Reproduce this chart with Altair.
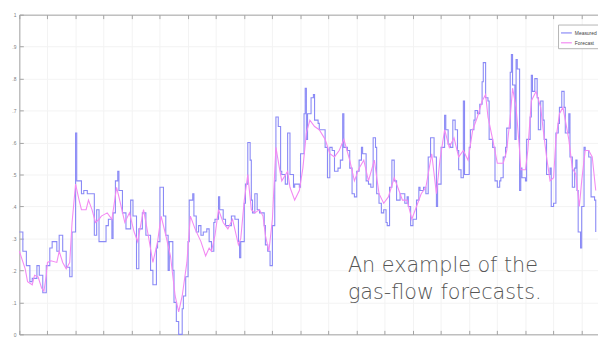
import altair as alt
import pandas as pd

# ---- data (time in hours, flow normalised 0..1) ----
series_names = ["Measured", "Forecast"]

measured_hours = [
    0, 3, 6, 9, 11, 15, 17, 20, 23, 26, 28, 32, 34, 37, 40, 43, 45, 48, 49, 53, 55, 58, 62, 64, 66, 68, 70, 74, 76, 79,
    80, 82, 84, 85, 88, 91, 95, 97, 100, 102, 105, 108, 112, 114, 117, 118, 120, 123, 125, 127, 128, 131, 132, 134, 136, 139, 140, 142, 144, 145, 148, 149, 151, 153, 155, 157, 160, 162,
    164, 166, 167, 170, 171, 174, 176, 180, 181, 184, 187, 188, 189, 192, 193, 195, 197, 198, 199, 201, 203, 205, 207, 209, 210, 212, 214, 216, 218, 219, 221, 223, 224, 227, 229, 231, 234, 235, 239, 240, 243, 244,
    245, 246, 249, 251, 252, 255, 256, 259, 261, 263, 265, 267, 269, 272, 274, 276, 277, 280, 282, 284, 286, 288, 290, 292, 293, 296, 298, 300, 302, 304, 305, 307, 309, 311, 313, 314, 316, 318, 320, 322, 325, 327,
    329, 331, 332, 334, 336, 339, 341, 342, 345, 347, 349, 351, 353, 354, 356, 357, 360, 363, 364, 366, 368, 370, 372, 374, 375, 377, 379, 380, 383, 384, 385, 388, 389, 391, 393, 395, 396, 398, 400, 401, 404, 406, 408, 410,
    411, 413, 415, 416, 419, 420, 421, 423, 424, 425, 427, 428, 429, 432, 433, 436, 437, 438, 440, 442, 443, 445, 447, 448, 450, 453, 454, 456, 458, 460, 461, 463, 465, 466, 469, 470, 472, 474, 475, 476, 477, 479, 480, 482, 483, 486, 488, 491, 492,
]
measured_values = [
    0.32, 0.26, 0.215, 0.165, 0.175, 0.215, 0.185, 0.13, 0.215, 0.27, 0.29, 0.26, 0.31, 0.26, 0.21, 0.18, 0.32, 0.63, 0.48, 0.44, 0.45, 0.44, 0.44, 0.31, 0.39, 0.29, 0.29, 0.34, 0.36, 0.30,
    0.38, 0.48, 0.51, 0.45, 0.38, 0.33, 0.42, 0.37, 0.205, 0.33, 0.38, 0.31, 0.20, 0.155, 0.27, 0.29, 0.46, 0.37, 0.31, 0.20, 0.29, 0.20, 0.10, 0.04, 0.0, 0.08, 0.12, 0.18, 0.29, 0.42, 0.44, 0.37, 0.32, 0.34, 0.31, 0.32, 0.33, 0.29,
    0.26, 0.35, 0.36, 0.43, 0.39, 0.36, 0.34, 0.34, 0.37, 0.36, 0.29, 0.24, 0.29, 0.41, 0.47, 0.60, 0.545, 0.42, 0.38, 0.44, 0.39, 0.38, 0.38, 0.34, 0.28, 0.26, 0.215, 0.34, 0.48, 0.68, 0.65, 0.51, 0.50, 0.47, 0.63, 0.50, 0.46, 0.47, 0.46, 0.565, 0.69, 0.77,
    0.61, 0.69, 0.74, 0.75, 0.67, 0.66, 0.64, 0.64, 0.585, 0.49, 0.585, 0.575, 0.51, 0.52, 0.545, 0.69, 0.585, 0.575, 0.52, 0.44, 0.43, 0.51, 0.545, 0.585, 0.565, 0.48, 0.47, 0.46, 0.615, 0.585, 0.44, 0.41, 0.38, 0.39, 0.35, 0.34, 0.46, 0.545, 0.48, 0.42, 0.44, 0.44,
    0.41, 0.43, 0.40, 0.34, 0.36, 0.42, 0.46, 0.45, 0.46, 0.44, 0.555, 0.615, 0.615, 0.555, 0.40, 0.47, 0.585, 0.685, 0.64, 0.595, 0.585, 0.67, 0.64, 0.575, 0.515, 0.49, 0.73, 0.50, 0.50, 0.585, 0.64, 0.67, 0.70, 0.69, 0.72, 0.79, 0.85, 0.74, 0.73, 0.61, 0.585, 0.48, 0.46, 0.48,
    0.49, 0.555, 0.585, 0.645, 0.82, 0.875, 0.78, 0.61, 0.86, 0.83, 0.45, 0.52, 0.49, 0.48, 0.61, 0.68, 0.81, 0.76, 0.80, 0.74, 0.64, 0.73, 0.67, 0.61, 0.50, 0.52, 0.40, 0.41, 0.63, 0.66, 0.71, 0.76, 0.71, 0.63, 0.69, 0.555, 0.46, 0.52, 0.545, 0.45, 0.32, 0.27, 0.40, 0.585, 0.575, 0.555, 0.43, 0.42, 0.32,
]

forecast_hours = [
    0, 5, 7, 11, 13, 16, 19, 21, 23, 24, 27, 32, 34, 37, 40, 43, 45, 48, 51, 53, 57, 59, 62, 65, 68, 70, 75, 79,
    83, 85, 90, 94, 98, 101, 106, 110, 114, 118, 121, 125, 129, 133, 136, 139, 143, 146, 150, 155, 159, 162,
    164, 167, 170, 174, 178, 182, 187, 189, 192, 195, 198, 201, 205, 208, 210, 213, 216, 219, 222, 224, 229, 231, 235, 239, 242, 245,
    248, 252, 256, 261, 265, 269, 273, 277, 282, 286, 290, 294, 298, 303, 307, 311, 315, 320, 324, 327,
    331, 335, 339, 343, 347, 352, 356, 359, 363, 367, 371, 375, 379, 383, 387, 391, 395, 398, 400, 404, 408,
    413, 416, 419, 421, 424, 427, 428, 432, 434, 437, 441, 445, 447, 450, 453, 456, 458, 461, 464, 466, 469, 472, 475, 478, 480, 483, 486, 489, 492,
]
forecast_values = [
    0.26, 0.205, 0.165, 0.155, 0.185, 0.18, 0.145, 0.135, 0.185, 0.225, 0.23, 0.225, 0.26, 0.225, 0.205, 0.225, 0.35, 0.47, 0.42, 0.39, 0.39, 0.42, 0.39, 0.35, 0.36, 0.37, 0.38, 0.36,
    0.46, 0.43, 0.35, 0.38, 0.32, 0.29, 0.39, 0.31, 0.225, 0.29, 0.37, 0.31, 0.245, 0.12, 0.07, 0.12, 0.225, 0.37, 0.33, 0.29, 0.245, 0.27,
    0.26, 0.31, 0.39, 0.35, 0.33, 0.36, 0.28, 0.30, 0.42, 0.50, 0.39, 0.38, 0.39, 0.37, 0.31, 0.26, 0.36, 0.585, 0.52, 0.48, 0.51, 0.46, 0.42, 0.45, 0.52, 0.63,
    0.67, 0.65, 0.64, 0.61, 0.565, 0.555, 0.575, 0.61, 0.545, 0.48, 0.52, 0.545, 0.48, 0.545, 0.44, 0.41, 0.43, 0.49, 0.45, 0.42,
    0.42, 0.36, 0.40, 0.44, 0.46, 0.565, 0.44, 0.545, 0.64, 0.585, 0.615, 0.555, 0.575, 0.545, 0.64, 0.68, 0.73, 0.75, 0.68, 0.61, 0.535,
    0.535, 0.575, 0.68, 0.77, 0.71, 0.575, 0.515, 0.515, 0.575, 0.73, 0.76, 0.71, 0.645, 0.555, 0.48, 0.49, 0.61, 0.69, 0.71, 0.67, 0.61, 0.52, 0.50, 0.40, 0.48, 0.575, 0.575, 0.555, 0.45,
]

x_ticks = list(range(0, 481, 24))
y_ticks = [0, 0.1, 0.2, 0.3, 0.4, 0.5, 0.6, 0.7, 0.8, 0.9, 1.0]
caption_lines = ["An example of the", "gas-flow forecasts."]

assert len(measured_hours) == len(measured_values)
assert len(forecast_hours) == len(forecast_values)

dm = pd.DataFrame({"hour": measured_hours, "flow": measured_values, "series": series_names[0]})
df = pd.DataFrame({"hour": forecast_hours, "flow": forecast_values, "series": series_names[1]})

W, H = 586, 324
AXIS_GREY = "#a3a3a3"
GRID = "#f3f3f3"

xs = alt.Scale(domain=[0, 493.5], nice=False, zero=False)
ys = alt.Scale(domain=[0, 1], nice=False, zero=False)

color = alt.Color(
    "series:N",
    scale=alt.Scale(domain=series_names, range=["#8a8af6", "#f38af3"]),
    legend=alt.Legend(
        orient="none", legendX=546, legendY=10, title=None,
        symbolType="stroke", symbolSize=120, symbolStrokeWidth=1.2,
        labelFontSize=5, labelColor="#444", labelFont="Liberation Sans",
        strokeColor="#b5b5b5", fillColor="#ffffff", padding=2,
        rowPadding=0, labelOffset=2,
    ),
)

measured = alt.Chart(dm).mark_line(interpolate="step-after", strokeWidth=1.1).encode(
    x=alt.X("hour:Q", scale=xs, title=None,
            axis=alt.Axis(orient="bottom", values=x_ticks, ticks=False, tickSize=0, labels=False,
                          domain=True, domainColor=AXIS_GREY, grid=True, gridColor=GRID)),
    y=alt.Y("flow:Q", scale=ys, title=None,
            axis=alt.Axis(orient="left", values=y_ticks, ticks=False, tickSize=0,
                          labelExpr="datum.value == 0 ? '0' : (datum.value >= 1 ? '1' : '.' + format(datum.value * 10, '.0f'))",
                          labelFontSize=5, labelColor="#808080", labelFont="Liberation Sans", labelPadding=3.5,
                          domain=True, domainColor=AXIS_GREY, grid=True, gridColor=GRID)),
    color=color,
)

forecast = alt.Chart(df).mark_line(strokeWidth=1.1).encode(
    x=alt.X("hour:Q", scale=xs, axis=None),
    y=alt.Y("flow:Q", scale=ys, axis=None),
    color=color,
)

# inward tick marks on left, top and bottom edges (MATLAB style)
left_ticks = alt.Chart(dm).mark_line(opacity=0).encode(
    x=alt.X("hour:Q", scale=xs, axis=None),
    y=alt.Y("flow:Q", scale=ys, title=None,
            axis=alt.Axis(orient="right", offset=-W, values=y_ticks, ticks=True, tickSize=4,
                          tickColor=AXIS_GREY, labels=False, domain=False, grid=False)),
)
top_edge = alt.Chart(dm).mark_line(opacity=0).encode(
    x=alt.X("hour:Q", scale=xs, title=None,
            axis=alt.Axis(orient="bottom", offset=-H, values=x_ticks, ticks=True, tickSize=4,
                          tickColor=AXIS_GREY, labels=False, domain=True, domainColor=AXIS_GREY, grid=False)),
    y=alt.Y("flow:Q", scale=ys, axis=None),
)
bottom_ticks = alt.Chart(dm).mark_line(opacity=0).encode(
    x=alt.X("hour:Q", scale=xs, title=None,
            axis=alt.Axis(orient="top", offset=-H, values=x_ticks, ticks=True, tickSize=4,
                          tickColor=AXIS_GREY, labels=False, domain=False, grid=False)),
    y=alt.Y("flow:Q", scale=ys, axis=None),
)

caption = alt.Chart(alt.Data(values=[{"lines": caption_lines}])).mark_text(
    align="left", baseline="alphabetic", fontSize=21, font="DejaVu Sans", fontWeight=300,
    color="#555555", lineHeight=27,
).encode(
    x=alt.value(333), y=alt.value(261), text="lines:N",
)

chart = alt.layer(measured, forecast, left_ticks, top_edge, bottom_ticks, caption).resolve_axis(
    x="independent", y="independent"
).properties(
    width=W, height=H,
    padding={"left": 11.5, "top": 4.5, "right": 0.5, "bottom": 6},
    autosize=alt.AutoSizeParams(type="none"),
    background="white",
).configure_view(stroke=None)

chart.save("out.html", embed_options={"renderer": "svg", "actions": False})
